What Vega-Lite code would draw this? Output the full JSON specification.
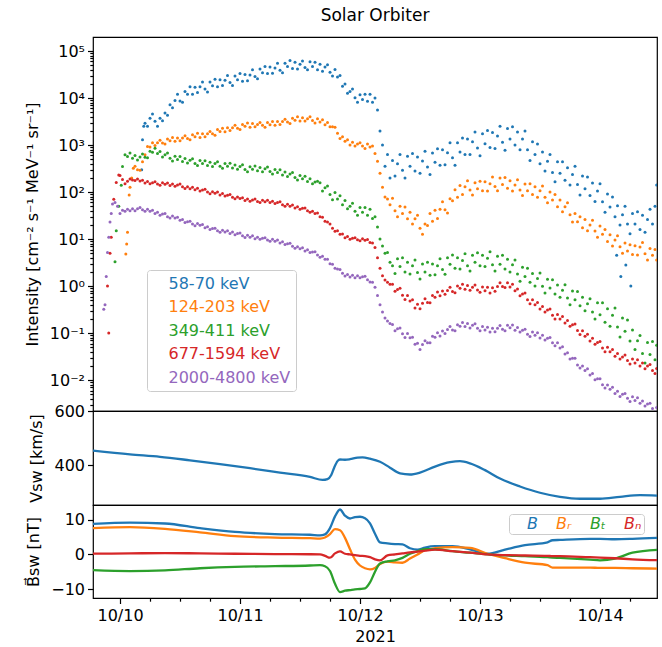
{
"$schema": "https://vega.github.io/schema/vega-lite/v6.json",
"background": "white",
"padding": {"left": 23, "top": 6, "right": 4, "bottom": 2},
"spacing": 0,
"bounds": "flush",
"config": {
 "font": "DejaVu Sans",
 "view": {"stroke": "black", "strokeWidth": 1.2},
 "axis": {"labelFontSize": 16, "titleFontSize": 16, "titleFontWeight": "normal", "labelColor": "black", "titleColor": "black", "tickColor": "black", "tickWidth": 1.2, "tickSize": 5.5, "domain": false, "grid": false, "labelPadding": 3, "titlePadding": 9, "labelOverlap": false},
 "legend": {"labelFontSize": 16, "labelFont": "DejaVu Sans"}
},
"datasets": {
 "i58": [
{"t":"2021-10-10T04:20","v":300},{"t":"2021-10-10T04:30","v":1300},{"t":"2021-10-10T04:45","v":2500},
{"t":"2021-10-10T05:00","v":2900},{"t":"2021-10-10T05:30","v":2500},{"t":"2021-10-10T06:00","v":3700},{"t":"2021-10-10T06:30","v":4600},{"t":"2021-10-10T07:00","v":3200},{"t":"2021-10-10T07:30","v":2500},{"t":"2021-10-10T08:00","v":3700},{"t":"2021-10-10T08:30","v":3300},{"t":"2021-10-10T09:00","v":4800},{"t":"2021-10-10T09:30","v":4300},{"t":"2021-10-10T10:00","v":7200},{"t":"2021-10-10T10:30","v":6200},{"t":"2021-10-10T11:00","v":8900},{"t":"2021-10-10T11:30","v":12000},{"t":"2021-10-10T12:00","v":8700},{"t":"2021-10-10T12:30","v":8100},{"t":"2021-10-10T13:00","v":13800},{"t":"2021-10-10T13:30","v":12000},{"t":"2021-10-10T14:00","v":17400},{"t":"2021-10-10T14:30","v":12000},{"t":"2021-10-10T15:00","v":17000},{"t":"2021-10-10T15:30","v":13200},{"t":"2021-10-10T16:00","v":17400},{"t":"2021-10-10T16:30","v":21900},{"t":"2021-10-10T17:00","v":15500},{"t":"2021-10-10T17:30","v":13500},{"t":"2021-10-10T18:00","v":21900},{"t":"2021-10-10T18:30","v":18200},{"t":"2021-10-10T19:00","v":25100},{"t":"2021-10-10T19:30","v":17400},{"t":"2021-10-10T20:00","v":24500},{"t":"2021-10-10T20:30","v":18600},{"t":"2021-10-10T21:00","v":24000},{"t":"2021-10-10T21:30","v":30200},{"t":"2021-10-10T22:00","v":21400},{"t":"2021-10-10T22:30","v":18600},{"t":"2021-10-10T23:00","v":29500},{"t":"2021-10-10T23:30","v":24500},
{"t":"2021-10-11T00:00","v":33100},{"t":"2021-10-11T00:30","v":22900},{"t":"2021-10-11T01:00","v":31600},{"t":"2021-10-11T01:30","v":23400},{"t":"2021-10-11T02:00","v":30900},{"t":"2021-10-11T02:30","v":39800},{"t":"2021-10-11T03:00","v":28800},{"t":"2021-10-11T03:30","v":25700},{"t":"2021-10-11T04:00","v":41700},{"t":"2021-10-11T04:30","v":34700},{"t":"2021-10-11T05:00","v":46800},{"t":"2021-10-11T05:30","v":33100},{"t":"2021-10-11T06:00","v":45700},{"t":"2021-10-11T06:30","v":33900},{"t":"2021-10-11T07:00","v":43700},{"t":"2021-10-11T07:30","v":55000},{"t":"2021-10-11T08:00","v":38900},{"t":"2021-10-11T08:30","v":34700},{"t":"2021-10-11T09:00","v":55000},{"t":"2021-10-11T09:30","v":46800},{"t":"2021-10-11T10:00","v":63100},{"t":"2021-10-11T10:30","v":42700},{"t":"2021-10-11T11:00","v":57500},{"t":"2021-10-11T11:30","v":41700},{"t":"2021-10-11T12:00","v":52500},{"t":"2021-10-11T12:30","v":61700},{"t":"2021-10-11T13:00","v":44700},{"t":"2021-10-11T13:30","v":39800},{"t":"2021-10-11T14:00","v":58900},{"t":"2021-10-11T14:30","v":46800},{"t":"2021-10-11T15:00","v":57500},{"t":"2021-10-11T15:30","v":39800},{"t":"2021-10-11T16:00","v":52500},{"t":"2021-10-11T16:30","v":37200},{"t":"2021-10-11T17:00","v":45700},{"t":"2021-10-11T17:30","v":51300},{"t":"2021-10-11T18:00","v":35500},{"t":"2021-10-11T18:30","v":29500},{"t":"2021-10-11T19:00","v":40700},{"t":"2021-10-11T19:30","v":28200},{"t":"2021-10-11T20:00","v":30200},{"t":"2021-10-11T20:30","v":17800},{"t":"2021-10-11T21:00","v":20000},{"t":"2021-10-11T21:30","v":12600},{"t":"2021-10-11T22:00","v":13800},{"t":"2021-10-11T22:30","v":15500},{"t":"2021-10-11T23:00","v":10200},{"t":"2021-10-11T23:30","v":8100},
{"t":"2021-10-12T00:00","v":11700},{"t":"2021-10-12T00:30","v":9300},{"t":"2021-10-12T01:00","v":12000},{"t":"2021-10-12T01:30","v":8500},{"t":"2021-10-12T02:00","v":12000},{"t":"2021-10-12T02:30","v":8100},{"t":"2021-10-12T03:00","v":10000},{"t":"2021-10-12T03:30","v":5600},{"t":"2021-10-12T04:00","v":2000},{"t":"2021-10-12T04:30","v":1000},{"t":"2021-10-12T05:00","v":355},{"t":"2021-10-12T05:30","v":630},{"t":"2021-10-12T06:00","v":200},{"t":"2021-10-12T06:30","v":470},{"t":"2021-10-12T07:00","v":220},{"t":"2021-10-12T07:30","v":400},{"t":"2021-10-12T08:00","v":630},{"t":"2021-10-12T08:30","v":290},{"t":"2021-10-12T09:00","v":200},{"t":"2021-10-12T09:30","v":575},{"t":"2021-10-12T10:00","v":355},{"t":"2021-10-12T10:30","v":660},{"t":"2021-10-12T11:00","v":280},{"t":"2021-10-12T11:30","v":560},{"t":"2021-10-12T12:00","v":250},{"t":"2021-10-12T12:30","v":460},{"t":"2021-10-12T13:00","v":740},{"t":"2021-10-12T13:30","v":340},{"t":"2021-10-12T14:00","v":235},{"t":"2021-10-12T14:30","v":680},{"t":"2021-10-12T15:00","v":430},{"t":"2021-10-12T15:30","v":830},{"t":"2021-10-12T16:00","v":370},{"t":"2021-10-12T16:30","v":790},{"t":"2021-10-12T17:00","v":380},{"t":"2021-10-12T17:30","v":690},{"t":"2021-10-12T18:00","v":1120},{"t":"2021-10-12T18:30","v":540},{"t":"2021-10-12T19:00","v":370},{"t":"2021-10-12T19:30","v":1120},{"t":"2021-10-12T20:00","v":710},{"t":"2021-10-12T20:30","v":1410},{"t":"2021-10-12T21:00","v":630},{"t":"2021-10-12T21:30","v":1350},{"t":"2021-10-12T22:00","v":630},{"t":"2021-10-12T22:30","v":1170},{"t":"2021-10-12T23:00","v":1900},{"t":"2021-10-12T23:30","v":870},
{"t":"2021-10-13T00:00","v":590},{"t":"2021-10-13T00:30","v":1740},{"t":"2021-10-13T01:00","v":1070},{"t":"2021-10-13T01:30","v":2040},{"t":"2021-10-13T02:00","v":890},{"t":"2021-10-13T02:30","v":1860},{"t":"2021-10-13T03:00","v":850},{"t":"2021-10-13T03:30","v":1550},{"t":"2021-10-13T04:00","v":2500},{"t":"2021-10-13T04:30","v":1150},{"t":"2021-10-13T05:00","v":780},{"t":"2021-10-13T05:30","v":2240},{"t":"2021-10-13T06:00","v":1350},{"t":"2021-10-13T06:30","v":2450},{"t":"2021-10-13T07:00","v":1000},{"t":"2021-10-13T07:30","v":1900},{"t":"2021-10-13T08:00","v":790},{"t":"2021-10-13T08:30","v":1350},{"t":"2021-10-13T09:00","v":2000},{"t":"2021-10-13T09:30","v":790},{"t":"2021-10-13T10:00","v":470},{"t":"2021-10-13T10:30","v":1170},{"t":"2021-10-13T11:00","v":630},{"t":"2021-10-13T11:30","v":1050},{"t":"2021-10-13T12:00","v":400},{"t":"2021-10-13T12:30","v":710},{"t":"2021-10-13T13:00","v":280},{"t":"2021-10-13T13:30","v":450},{"t":"2021-10-13T14:00","v":630},{"t":"2021-10-13T14:30","v":260},{"t":"2021-10-13T15:00","v":166},{"t":"2021-10-13T15:30","v":440},{"t":"2021-10-13T16:00","v":250},{"t":"2021-10-13T16:30","v":440},{"t":"2021-10-13T17:00","v":178},{"t":"2021-10-13T17:30","v":330},{"t":"2021-10-13T18:00","v":141},{"t":"2021-10-13T18:30","v":235},{"t":"2021-10-13T19:00","v":355},{"t":"2021-10-13T19:30","v":145},{"t":"2021-10-13T20:00","v":87},{"t":"2021-10-13T20:30","v":220},{"t":"2021-10-13T21:00","v":117},{"t":"2021-10-13T21:30","v":210},{"t":"2021-10-13T22:00","v":85},{"t":"2021-10-13T22:30","v":155},{"t":"2021-10-13T23:00","v":63},{"t":"2021-10-13T23:30","v":105},
{"t":"2021-10-14T00:00","v":150},{"t":"2021-10-14T00:30","v":62},{"t":"2021-10-14T01:00","v":37},{"t":"2021-10-14T01:30","v":91},{"t":"2021-10-14T02:00","v":48},{"t":"2021-10-14T02:30","v":79},{"t":"2021-10-14T03:00","v":30},{"t":"2021-10-14T03:20","v":4.5},{"t":"2021-10-14T03:30","v":51},{"t":"2021-10-14T04:00","v":20},{"t":"2021-10-14T04:10","v":1.6},{"t":"2021-10-14T04:30","v":33},{"t":"2021-10-14T05:00","v":50},{"t":"2021-10-14T05:10","v":2.8},{"t":"2021-10-14T05:30","v":21},{"t":"2021-10-14T06:00","v":13},{"t":"2021-10-14T06:10","v":1.0},{"t":"2021-10-14T06:30","v":35},{"t":"2021-10-14T07:00","v":21},{"t":"2021-10-14T07:30","v":38},{"t":"2021-10-14T08:00","v":16},{"t":"2021-10-14T08:30","v":32},{"t":"2021-10-14T09:00","v":14},{"t":"2021-10-14T09:30","v":26},{"t":"2021-10-14T10:00","v":43},{"t":"2021-10-14T10:30","v":21},{"t":"2021-10-14T11:00","v":50},{"t":"2021-10-14T11:20","v":141}
 ],
 "i124": [
{"t":"2021-10-10T01:10","v":4.8},{"t":"2021-10-10T01:20","v":7.9},{"t":"2021-10-10T01:30","v":14},{"t":"2021-10-10T01:50","v":87},{"t":"2021-10-10T02:00","v":126},{"t":"2021-10-10T02:20","v":200},{"t":"2021-10-10T02:40","v":320},
{"t":"2021-10-10T03:00","v":355},{"t":"2021-10-10T03:30","v":300},{"t":"2021-10-10T04:00","v":290},{"t":"2021-10-10T04:30","v":440},{"t":"2021-10-10T05:00","v":620},{"t":"2021-10-10T05:30","v":930},{"t":"2021-10-10T06:00","v":910},{"t":"2021-10-10T06:30","v":1120},{"t":"2021-10-10T07:00","v":980},{"t":"2021-10-10T07:30","v":1120},{"t":"2021-10-10T08:00","v":1260},{"t":"2021-10-10T08:30","v":1100},{"t":"2021-10-10T09:00","v":1050},{"t":"2021-10-10T09:30","v":1350},{"t":"2021-10-10T10:00","v":1230},{"t":"2021-10-10T10:30","v":1450},{"t":"2021-10-10T11:00","v":1200},{"t":"2021-10-10T11:30","v":1410},{"t":"2021-10-10T12:00","v":1230},{"t":"2021-10-10T12:30","v":1410},{"t":"2021-10-10T13:00","v":1580},{"t":"2021-10-10T13:30","v":1380},{"t":"2021-10-10T14:00","v":1290},{"t":"2021-10-10T14:30","v":1660},{"t":"2021-10-10T15:00","v":1510},{"t":"2021-10-10T15:30","v":1780},{"t":"2021-10-10T16:00","v":1450},{"t":"2021-10-10T16:30","v":1740},{"t":"2021-10-10T17:00","v":1510},{"t":"2021-10-10T17:30","v":1740},{"t":"2021-10-10T18:00","v":1950},{"t":"2021-10-10T18:30","v":1740},{"t":"2021-10-10T19:00","v":1620},{"t":"2021-10-10T19:30","v":2140},{"t":"2021-10-10T20:00","v":1950},{"t":"2021-10-10T20:30","v":2290},{"t":"2021-10-10T21:00","v":1910},{"t":"2021-10-10T21:30","v":2340},{"t":"2021-10-10T22:00","v":2040},{"t":"2021-10-10T22:30","v":2340},{"t":"2021-10-10T23:00","v":2630},{"t":"2021-10-10T23:30","v":2290},
{"t":"2021-10-11T00:00","v":2140},{"t":"2021-10-11T00:30","v":2750},{"t":"2021-10-11T01:00","v":2510},{"t":"2021-10-11T01:30","v":2950},{"t":"2021-10-11T02:00","v":2400},{"t":"2021-10-11T02:30","v":2880},{"t":"2021-10-11T03:00","v":2450},{"t":"2021-10-11T03:30","v":2750},{"t":"2021-10-11T04:00","v":3020},{"t":"2021-10-11T04:30","v":2630},{"t":"2021-10-11T05:00","v":2400},{"t":"2021-10-11T05:30","v":3020},{"t":"2021-10-11T06:00","v":2690},{"t":"2021-10-11T06:30","v":3160},{"t":"2021-10-11T07:00","v":2630},{"t":"2021-10-11T07:30","v":3160},{"t":"2021-10-11T08:00","v":2750},{"t":"2021-10-11T08:30","v":3160},{"t":"2021-10-11T09:00","v":3550},{"t":"2021-10-11T09:30","v":3090},{"t":"2021-10-11T10:00","v":2880},{"t":"2021-10-11T10:30","v":3720},{"t":"2021-10-11T11:00","v":3390},{"t":"2021-10-11T11:30","v":3980},{"t":"2021-10-11T12:00","v":3240},{"t":"2021-10-11T12:30","v":3800},{"t":"2021-10-11T13:00","v":3240},{"t":"2021-10-11T13:30","v":3630},{"t":"2021-10-11T14:00","v":3980},{"t":"2021-10-11T14:30","v":3310},{"t":"2021-10-11T15:00","v":2950},{"t":"2021-10-11T15:30","v":3630},{"t":"2021-10-11T16:00","v":3090},{"t":"2021-10-11T16:30","v":3470},{"t":"2021-10-11T17:00","v":2690},{"t":"2021-10-11T17:30","v":3020},{"t":"2021-10-11T18:00","v":2450},{"t":"2021-10-11T18:30","v":2450},{"t":"2021-10-11T19:00","v":2400},{"t":"2021-10-11T19:30","v":1780},{"t":"2021-10-11T20:00","v":1380},{"t":"2021-10-11T20:30","v":1510},{"t":"2021-10-11T21:00","v":1200},{"t":"2021-10-11T21:30","v":1290},{"t":"2021-10-11T22:00","v":1000},{"t":"2021-10-11T22:30","v":1150},{"t":"2021-10-11T23:00","v":950},{"t":"2021-10-11T23:30","v":1050},
{"t":"2021-10-12T00:00","v":1120},{"t":"2021-10-12T00:30","v":950},{"t":"2021-10-12T01:00","v":850},{"t":"2021-10-12T01:30","v":1050},{"t":"2021-10-12T02:00","v":910},{"t":"2021-10-12T02:30","v":950},{"t":"2021-10-12T03:00","v":660},{"t":"2021-10-12T03:30","v":450},{"t":"2021-10-12T04:00","v":250},{"t":"2021-10-12T04:30","v":126},{"t":"2021-10-12T05:00","v":79},{"t":"2021-10-12T05:30","v":71},{"t":"2021-10-12T06:00","v":54},{"t":"2021-10-12T06:30","v":74},{"t":"2021-10-12T07:00","v":40},{"t":"2021-10-12T07:30","v":30},{"t":"2021-10-12T08:00","v":50},{"t":"2021-10-12T08:30","v":35},{"t":"2021-10-12T09:00","v":48},{"t":"2021-10-12T09:30","v":27},{"t":"2021-10-12T10:00","v":37},{"t":"2021-10-12T10:30","v":21},{"t":"2021-10-12T11:00","v":27},{"t":"2021-10-12T11:30","v":32},{"t":"2021-10-12T12:00","v":17},{"t":"2021-10-12T12:30","v":12.6},{"t":"2021-10-12T13:00","v":21},{"t":"2021-10-12T13:30","v":19.5},{"t":"2021-10-12T14:00","v":35},{"t":"2021-10-12T14:30","v":24},{"t":"2021-10-12T15:00","v":41},{"t":"2021-10-12T15:30","v":27.5},{"t":"2021-10-12T16:00","v":43},{"t":"2021-10-12T16:30","v":62},{"t":"2021-10-12T17:00","v":42},{"t":"2021-10-12T17:30","v":36},{"t":"2021-10-12T18:00","v":72},{"t":"2021-10-12T18:30","v":65},{"t":"2021-10-12T19:00","v":112},{"t":"2021-10-12T19:30","v":78},{"t":"2021-10-12T20:00","v":138},{"t":"2021-10-12T20:30","v":89},{"t":"2021-10-12T21:00","v":129},{"t":"2021-10-12T21:30","v":174},{"t":"2021-10-12T22:00","v":110},{"t":"2021-10-12T22:30","v":87},{"t":"2021-10-12T23:00","v":158},{"t":"2021-10-12T23:30","v":117},
{"t":"2021-10-13T00:00","v":170},{"t":"2021-10-13T00:30","v":107},{"t":"2021-10-13T01:00","v":166},{"t":"2021-10-13T01:30","v":105},{"t":"2021-10-13T02:00","v":151},{"t":"2021-10-13T02:30","v":209},{"t":"2021-10-13T03:00","v":132},{"t":"2021-10-13T03:30","v":107},{"t":"2021-10-13T04:00","v":200},{"t":"2021-10-13T04:30","v":145},{"t":"2021-10-13T05:00","v":204},{"t":"2021-10-13T05:30","v":120},{"t":"2021-10-13T06:00","v":174},{"t":"2021-10-13T06:30","v":105},{"t":"2021-10-13T07:00","v":141},{"t":"2021-10-13T07:30","v":182},{"t":"2021-10-13T08:00","v":110},{"t":"2021-10-13T08:30","v":85},{"t":"2021-10-13T09:00","v":148},{"t":"2021-10-13T09:30","v":107},{"t":"2021-10-13T10:00","v":151},{"t":"2021-10-13T10:30","v":89},{"t":"2021-10-13T11:00","v":129},{"t":"2021-10-13T11:30","v":78},{"t":"2021-10-13T12:00","v":107},{"t":"2021-10-13T12:30","v":135},{"t":"2021-10-13T13:00","v":78},{"t":"2021-10-13T13:30","v":59},{"t":"2021-10-13T14:00","v":100},{"t":"2021-10-13T14:30","v":68},{"t":"2021-10-13T15:00","v":89},{"t":"2021-10-13T15:30","v":49},{"t":"2021-10-13T16:00","v":68},{"t":"2021-10-13T16:30","v":38},{"t":"2021-10-13T17:00","v":49},{"t":"2021-10-13T17:30","v":59},{"t":"2021-10-13T18:00","v":33},{"t":"2021-10-13T18:30","v":23},{"t":"2021-10-13T19:00","v":35},{"t":"2021-10-13T19:30","v":23.4},{"t":"2021-10-13T20:00","v":30},{"t":"2021-10-13T20:30","v":17.4},{"t":"2021-10-13T21:00","v":26},{"t":"2021-10-13T21:30","v":15},{"t":"2021-10-13T22:00","v":20},{"t":"2021-10-13T22:30","v":25},{"t":"2021-10-13T23:00","v":14.8},{"t":"2021-10-13T23:30","v":11},
{"t":"2021-10-14T00:00","v":19},{"t":"2021-10-14T00:30","v":12.6},{"t":"2021-10-14T01:00","v":16},{"t":"2021-10-14T01:30","v":8.9},{"t":"2021-10-14T02:00","v":12.3},{"t":"2021-10-14T02:30","v":7.1},{"t":"2021-10-14T03:00","v":9.5},{"t":"2021-10-14T03:30","v":11.7},{"t":"2021-10-14T04:00","v":6.9},{"t":"2021-10-14T04:30","v":5.0},{"t":"2021-10-14T05:00","v":8.3},{"t":"2021-10-14T05:30","v":5.6},{"t":"2021-10-14T06:00","v":7.6},{"t":"2021-10-14T06:30","v":4.7},{"t":"2021-10-14T07:00","v":7.2},{"t":"2021-10-14T07:30","v":4.6},{"t":"2021-10-14T08:00","v":6.8},{"t":"2021-10-14T08:30","v":8.5},{"t":"2021-10-14T09:00","v":4.9},{"t":"2021-10-14T09:30","v":3.6},{"t":"2021-10-14T10:00","v":6.3},{"t":"2021-10-14T10:30","v":4.5},{"t":"2021-10-14T11:00","v":6.0},{"t":"2021-10-14T11:20","v":3.6}
 ],
 "i349": [
{"t":"2021-10-09T23:00","v":3.3},{"t":"2021-10-09T23:15","v":15},{"t":"2021-10-09T23:45","v":50},{"t":"2021-10-10T00:15","v":140},{"t":"2021-10-10T00:30","v":350},
{"t":"2021-10-10T01:00","v":620},{"t":"2021-10-10T01:30","v":570},{"t":"2021-10-10T02:00","v":680},{"t":"2021-10-10T02:30","v":525},{"t":"2021-10-10T03:00","v":600},{"t":"2021-10-10T03:30","v":480},{"t":"2021-10-10T04:00","v":560},{"t":"2021-10-10T04:30","v":645},{"t":"2021-10-10T05:00","v":550},{"t":"2021-10-10T05:30","v":540},{"t":"2021-10-10T06:00","v":740},{"t":"2021-10-10T06:30","v":700},{"t":"2021-10-10T07:00","v":860},{"t":"2021-10-10T07:30","v":660},{"t":"2021-10-10T08:00","v":730},{"t":"2021-10-10T08:30","v":560},{"t":"2021-10-10T09:00","v":620},{"t":"2021-10-10T09:30","v":680},{"t":"2021-10-10T10:00","v":525},{"t":"2021-10-10T10:30","v":457},{"t":"2021-10-10T11:00","v":575},{"t":"2021-10-10T11:30","v":495},{"t":"2021-10-10T12:00","v":570},{"t":"2021-10-10T12:30","v":447},{"t":"2021-10-10T13:00","v":520},{"t":"2021-10-10T13:30","v":417},{"t":"2021-10-10T14:00","v":473},{"t":"2021-10-10T14:30","v":513},{"t":"2021-10-10T15:00","v":407},{"t":"2021-10-10T15:30","v":367},{"t":"2021-10-10T16:00","v":468},{"t":"2021-10-10T16:30","v":403},{"t":"2021-10-10T17:00","v":462},{"t":"2021-10-10T17:30","v":367},{"t":"2021-10-10T18:00","v":431},{"t":"2021-10-10T18:30","v":351},{"t":"2021-10-10T19:00","v":403},{"t":"2021-10-10T19:30","v":442},{"t":"2021-10-10T20:00","v":355},{"t":"2021-10-10T20:30","v":320},{"t":"2021-10-10T21:00","v":407},{"t":"2021-10-10T21:30","v":355},{"t":"2021-10-10T22:00","v":412},{"t":"2021-10-10T22:30","v":324},{"t":"2021-10-10T23:00","v":376},{"t":"2021-10-10T23:30","v":305},
{"t":"2021-10-11T00:00","v":351},{"t":"2021-10-11T00:30","v":380},{"t":"2021-10-11T01:00","v":302},{"t":"2021-10-11T01:30","v":272},{"t":"2021-10-11T02:00","v":347},{"t":"2021-10-11T02:30","v":305},{"t":"2021-10-11T03:00","v":359},{"t":"2021-10-11T03:30","v":285},{"t":"2021-10-11T04:00","v":335},{"t":"2021-10-11T04:30","v":272},{"t":"2021-10-11T05:00","v":313},{"t":"2021-10-11T05:30","v":343},{"t":"2021-10-11T06:00","v":275},{"t":"2021-10-11T06:30","v":243},{"t":"2021-10-11T07:00","v":302},{"t":"2021-10-11T07:30","v":260},{"t":"2021-10-11T08:00","v":299},{"t":"2021-10-11T08:30","v":232},{"t":"2021-10-11T09:00","v":266},{"t":"2021-10-11T09:30","v":214},{"t":"2021-10-11T10:00","v":243},{"t":"2021-10-11T10:30","v":260},{"t":"2021-10-11T11:00","v":204},{"t":"2021-10-11T11:30","v":180},{"t":"2021-10-11T12:00","v":224},{"t":"2021-10-11T12:30","v":191},{"t":"2021-10-11T13:00","v":216},{"t":"2021-10-11T13:30","v":168},{"t":"2021-10-11T14:00","v":193},{"t":"2021-10-11T14:30","v":150},{"t":"2021-10-11T15:00","v":164},{"t":"2021-10-11T15:30","v":170},{"t":"2021-10-11T16:00","v":158},{"t":"2021-10-11T16:30","v":105},{"t":"2021-10-11T17:00","v":123},{"t":"2021-10-11T17:30","v":135},{"t":"2021-10-11T18:00","v":89},{"t":"2021-10-11T18:30","v":69},{"t":"2021-10-11T19:00","v":98},{"t":"2021-10-11T19:30","v":71},{"t":"2021-10-11T20:00","v":83},{"t":"2021-10-11T20:30","v":54},{"t":"2021-10-11T21:00","v":66},{"t":"2021-10-11T21:30","v":44},{"t":"2021-10-11T22:00","v":50},{"t":"2021-10-11T22:30","v":58},{"t":"2021-10-11T23:00","v":39},{"t":"2021-10-11T23:30","v":32},
{"t":"2021-10-12T00:00","v":47},{"t":"2021-10-12T00:30","v":37},{"t":"2021-10-12T01:00","v":47},{"t":"2021-10-12T01:30","v":32},{"t":"2021-10-12T02:00","v":43},{"t":"2021-10-12T02:30","v":27.5},{"t":"2021-10-12T03:00","v":30},{"t":"2021-10-12T03:30","v":18},{"t":"2021-10-12T04:00","v":10},{"t":"2021-10-12T04:30","v":7.1},{"t":"2021-10-12T05:00","v":5.0},{"t":"2021-10-12T05:30","v":5.2},{"t":"2021-10-12T06:00","v":3.2},{"t":"2021-10-12T06:30","v":2.7},{"t":"2021-10-12T07:00","v":1.86},{"t":"2021-10-12T07:30","v":3.8},{"t":"2021-10-12T08:00","v":2.6},{"t":"2021-10-12T08:30","v":4.0},{"t":"2021-10-12T09:00","v":2.0},{"t":"2021-10-12T09:30","v":3.2},{"t":"2021-10-12T10:00","v":1.8},{"t":"2021-10-12T10:30","v":2.7},{"t":"2021-10-12T11:00","v":3.6},{"t":"2021-10-12T11:30","v":1.95},{"t":"2021-10-12T12:00","v":1.41},{"t":"2021-10-12T12:30","v":2.95},{"t":"2021-10-12T13:00","v":2.0},{"t":"2021-10-12T13:30","v":3.2},{"t":"2021-10-12T14:00","v":1.7},{"t":"2021-10-12T14:30","v":2.95},{"t":"2021-10-12T15:00","v":1.74},{"t":"2021-10-12T15:30","v":2.7},{"t":"2021-10-12T16:00","v":3.8},{"t":"2021-10-12T16:30","v":2.24},{"t":"2021-10-12T17:00","v":1.78},{"t":"2021-10-12T17:30","v":4.0},{"t":"2021-10-12T18:00","v":2.9},{"t":"2021-10-12T18:30","v":4.6},{"t":"2021-10-12T19:00","v":2.4},{"t":"2021-10-12T19:30","v":4.0},{"t":"2021-10-12T20:00","v":2.3},{"t":"2021-10-12T20:30","v":3.5},{"t":"2021-10-12T21:00","v":4.9},{"t":"2021-10-12T21:30","v":2.7},{"t":"2021-10-12T22:00","v":2.1},{"t":"2021-10-12T22:30","v":4.5},{"t":"2021-10-12T23:00","v":3.2},{"t":"2021-10-12T23:30","v":5.1},
{"t":"2021-10-13T00:00","v":2.7},{"t":"2021-10-13T00:30","v":4.5},{"t":"2021-10-13T01:00","v":2.6},{"t":"2021-10-13T01:30","v":3.9},{"t":"2021-10-13T02:00","v":5.4},{"t":"2021-10-13T02:30","v":2.85},{"t":"2021-10-13T03:00","v":2.1},{"t":"2021-10-13T03:30","v":4.3},{"t":"2021-10-13T04:00","v":2.9},{"t":"2021-10-13T04:30","v":4.5},{"t":"2021-10-13T05:00","v":2.3},{"t":"2021-10-13T05:30","v":3.7},{"t":"2021-10-13T06:00","v":2.0},{"t":"2021-10-13T06:30","v":2.85},{"t":"2021-10-13T07:00","v":3.6},{"t":"2021-10-13T07:30","v":1.8},{"t":"2021-10-13T08:00","v":1.26},{"t":"2021-10-13T08:30","v":2.5},{"t":"2021-10-13T09:00","v":1.6},{"t":"2021-10-13T09:30","v":2.4},{"t":"2021-10-13T10:00","v":1.2},{"t":"2021-10-13T10:30","v":1.86},{"t":"2021-10-13T11:00","v":1.0},{"t":"2021-10-13T11:30","v":1.45},{"t":"2021-10-13T12:00","v":1.9},{"t":"2021-10-13T12:30","v":0.99},{"t":"2021-10-13T13:00","v":0.71},{"t":"2021-10-13T13:30","v":1.4},{"t":"2021-10-13T14:00","v":0.91},{"t":"2021-10-13T14:30","v":1.36},{"t":"2021-10-13T15:00","v":0.68},{"t":"2021-10-13T15:30","v":1.06},{"t":"2021-10-13T16:00","v":0.58},{"t":"2021-10-13T16:30","v":0.82},{"t":"2021-10-13T17:00","v":1.07},{"t":"2021-10-13T17:30","v":0.56},{"t":"2021-10-13T18:00","v":0.4},{"t":"2021-10-13T18:30","v":0.79},{"t":"2021-10-13T19:00","v":0.51},{"t":"2021-10-13T19:30","v":0.77},{"t":"2021-10-13T20:00","v":0.38},{"t":"2021-10-13T20:30","v":0.58},{"t":"2021-10-13T21:00","v":0.3},{"t":"2021-10-13T21:30","v":0.42},{"t":"2021-10-13T22:00","v":0.54},{"t":"2021-10-13T22:30","v":0.28},{"t":"2021-10-13T23:00","v":0.2},{"t":"2021-10-13T23:30","v":0.44},
{"t":"2021-10-14T00:00","v":0.245},{"t":"2021-10-14T00:30","v":0.44},{"t":"2021-10-14T01:00","v":0.17},{"t":"2021-10-14T01:30","v":0.33},{"t":"2021-10-14T02:00","v":0.14},{"t":"2021-10-14T02:30","v":0.24},{"t":"2021-10-14T03:00","v":0.34},{"t":"2021-10-14T03:30","v":0.135},{"t":"2021-10-14T04:00","v":0.083},{"t":"2021-10-14T04:30","v":0.21},{"t":"2021-10-14T05:00","v":0.11},{"t":"2021-10-14T05:30","v":0.19},{"t":"2021-10-14T06:00","v":0.068},{"t":"2021-10-14T06:30","v":0.117},{"t":"2021-10-14T07:00","v":0.045},{"t":"2021-10-14T07:30","v":0.069},{"t":"2021-10-14T08:00","v":0.089},{"t":"2021-10-14T08:30","v":0.037},{"t":"2021-10-14T09:00","v":0.023},{"t":"2021-10-14T09:30","v":0.063},{"t":"2021-10-14T10:00","v":0.035},{"t":"2021-10-14T10:30","v":0.066},{"t":"2021-10-14T11:00","v":0.027},{"t":"2021-10-14T11:20","v":0.055}
 ],
 "i677": [
{"t":"2021-10-09T21:30","v":1.0},{"t":"2021-10-09T21:45","v":0.1},{"t":"2021-10-09T22:00","v":5.0},{"t":"2021-10-09T22:15","v":11},{"t":"2021-10-09T22:45","v":70},{"t":"2021-10-09T23:15","v":160},{"t":"2021-10-09T23:45","v":230},
{"t":"2021-10-10T00:00","v":224},{"t":"2021-10-10T00:30","v":186},{"t":"2021-10-10T01:00","v":150},{"t":"2021-10-10T01:30","v":170},{"t":"2021-10-10T02:00","v":190},{"t":"2021-10-10T02:30","v":180},{"t":"2021-10-10T03:00","v":176},{"t":"2021-10-10T03:30","v":190},{"t":"2021-10-10T04:00","v":171},{"t":"2021-10-10T04:30","v":179},{"t":"2021-10-10T05:00","v":155},{"t":"2021-10-10T05:30","v":167},{"t":"2021-10-10T06:00","v":150},{"t":"2021-10-10T06:30","v":158},{"t":"2021-10-10T07:00","v":166},{"t":"2021-10-10T07:30","v":148},{"t":"2021-10-10T08:00","v":140},{"t":"2021-10-10T08:30","v":157},{"t":"2021-10-10T09:00","v":146},{"t":"2021-10-10T09:30","v":156},{"t":"2021-10-10T10:00","v":138},{"t":"2021-10-10T10:30","v":149},{"t":"2021-10-10T11:00","v":133},{"t":"2021-10-10T11:30","v":142},{"t":"2021-10-10T12:00","v":148},{"t":"2021-10-10T12:30","v":129},{"t":"2021-10-10T13:00","v":119},{"t":"2021-10-10T13:30","v":130},{"t":"2021-10-10T14:00","v":118},{"t":"2021-10-10T14:30","v":127},{"t":"2021-10-10T15:00","v":112},{"t":"2021-10-10T15:30","v":120},{"t":"2021-10-10T16:00","v":106},{"t":"2021-10-10T16:30","v":111},{"t":"2021-10-10T17:00","v":115},{"t":"2021-10-10T17:30","v":100},{"t":"2021-10-10T18:00","v":92},{"t":"2021-10-10T18:30","v":102},{"t":"2021-10-10T19:00","v":94},{"t":"2021-10-10T19:30","v":100},{"t":"2021-10-10T20:00","v":87},{"t":"2021-10-10T20:30","v":93},{"t":"2021-10-10T21:00","v":82},{"t":"2021-10-10T21:30","v":86},{"t":"2021-10-10T22:00","v":89},{"t":"2021-10-10T22:30","v":78},{"t":"2021-10-10T23:00","v":72},{"t":"2021-10-10T23:30","v":79},
{"t":"2021-10-11T00:00","v":73},{"t":"2021-10-11T00:30","v":76},{"t":"2021-10-11T01:00","v":66},{"t":"2021-10-11T01:30","v":71},{"t":"2021-10-11T02:00","v":64},{"t":"2021-10-11T02:30","v":68},{"t":"2021-10-11T03:00","v":71},{"t":"2021-10-11T03:30","v":63},{"t":"2021-10-11T04:00","v":60},{"t":"2021-10-11T04:30","v":67},{"t":"2021-10-11T05:00","v":62},{"t":"2021-10-11T05:30","v":67},{"t":"2021-10-11T06:00","v":60},{"t":"2021-10-11T06:30","v":64},{"t":"2021-10-11T07:00","v":57},{"t":"2021-10-11T07:30","v":60},{"t":"2021-10-11T08:00","v":62},{"t":"2021-10-11T08:30","v":54},{"t":"2021-10-11T09:00","v":50},{"t":"2021-10-11T09:30","v":55},{"t":"2021-10-11T10:00","v":50},{"t":"2021-10-11T10:30","v":53},{"t":"2021-10-11T11:00","v":46},{"t":"2021-10-11T11:30","v":49},{"t":"2021-10-11T12:00","v":43},{"t":"2021-10-11T12:30","v":45},{"t":"2021-10-11T13:00","v":46},{"t":"2021-10-11T13:30","v":40},{"t":"2021-10-11T14:00","v":37},{"t":"2021-10-11T14:30","v":39},{"t":"2021-10-11T15:00","v":35},{"t":"2021-10-11T15:30","v":36},{"t":"2021-10-11T16:00","v":30},{"t":"2021-10-11T16:30","v":29},{"t":"2021-10-11T17:00","v":24},{"t":"2021-10-11T17:30","v":23},{"t":"2021-10-11T18:00","v":21},{"t":"2021-10-11T18:30","v":17},{"t":"2021-10-11T19:00","v":14.6},{"t":"2021-10-11T19:30","v":15},{"t":"2021-10-11T20:00","v":12.7},{"t":"2021-10-11T20:30","v":12.8},{"t":"2021-10-11T21:00","v":10.7},{"t":"2021-10-11T21:30","v":11.3},{"t":"2021-10-11T22:00","v":9.9},{"t":"2021-10-11T22:30","v":10.4},{"t":"2021-10-11T23:00","v":10.7},{"t":"2021-10-11T23:30","v":9.7},
{"t":"2021-10-12T00:00","v":9.2},{"t":"2021-10-12T00:30","v":10.2},{"t":"2021-10-12T01:00","v":9.4},{"t":"2021-10-12T01:30","v":9.8},{"t":"2021-10-12T02:00","v":8.5},{"t":"2021-10-12T02:30","v":8.3},{"t":"2021-10-12T03:00","v":6.6},{"t":"2021-10-12T03:30","v":4.0},{"t":"2021-10-12T04:00","v":2.4},{"t":"2021-10-12T04:30","v":1.66},{"t":"2021-10-12T05:00","v":1.35},{"t":"2021-10-12T05:30","v":1.2},{"t":"2021-10-12T06:00","v":1.1},{"t":"2021-10-12T06:30","v":1.1},{"t":"2021-10-12T07:00","v":0.78},{"t":"2021-10-12T07:30","v":0.85},{"t":"2021-10-12T08:00","v":0.9},{"t":"2021-10-12T08:30","v":0.64},{"t":"2021-10-12T09:00","v":0.52},{"t":"2021-10-12T09:30","v":0.63},{"t":"2021-10-12T10:00","v":0.48},{"t":"2021-10-12T10:30","v":0.51},{"t":"2021-10-12T11:00","v":0.34},{"t":"2021-10-12T11:30","v":0.41},{"t":"2021-10-12T12:00","v":0.33},{"t":"2021-10-12T12:30","v":0.43},{"t":"2021-10-12T13:00","v":0.54},{"t":"2021-10-12T13:30","v":0.45},{"t":"2021-10-12T14:00","v":0.44},{"t":"2021-10-12T14:30","v":0.63},{"t":"2021-10-12T15:00","v":0.58},{"t":"2021-10-12T15:30","v":0.75},{"t":"2021-10-12T16:00","v":0.62},{"t":"2021-10-12T16:30","v":0.79},{"t":"2021-10-12T17:00","v":0.67},{"t":"2021-10-12T17:30","v":0.81},{"t":"2021-10-12T18:00","v":0.94},{"t":"2021-10-12T18:30","v":0.77},{"t":"2021-10-12T19:00","v":0.72},{"t":"2021-10-12T19:30","v":1.0},{"t":"2021-10-12T20:00","v":0.9},{"t":"2021-10-12T20:30","v":1.09},{"t":"2021-10-12T21:00","v":0.86},{"t":"2021-10-12T21:30","v":1.03},{"t":"2021-10-12T22:00","v":0.82},{"t":"2021-10-12T22:30","v":0.95},{"t":"2021-10-12T23:00","v":1.05},{"t":"2021-10-12T23:30","v":0.83},
{"t":"2021-10-13T00:00","v":0.74},{"t":"2021-10-13T00:30","v":0.96},{"t":"2021-10-13T01:00","v":0.8},{"t":"2021-10-13T01:30","v":0.94},{"t":"2021-10-13T02:00","v":0.71},{"t":"2021-10-13T02:30","v":0.92},{"t":"2021-10-13T03:00","v":0.78},{"t":"2021-10-13T03:30","v":0.98},{"t":"2021-10-13T04:00","v":1.18},{"t":"2021-10-13T04:30","v":0.98},{"t":"2021-10-13T05:00","v":0.93},{"t":"2021-10-13T05:30","v":1.18},{"t":"2021-10-13T06:00","v":0.96},{"t":"2021-10-13T06:30","v":1.09},{"t":"2021-10-13T07:00","v":0.8},{"t":"2021-10-13T07:30","v":0.87},{"t":"2021-10-13T08:00","v":0.62},{"t":"2021-10-13T08:30","v":0.68},{"t":"2021-10-13T09:00","v":0.71},{"t":"2021-10-13T09:30","v":0.51},{"t":"2021-10-13T10:00","v":0.42},{"t":"2021-10-13T10:30","v":0.51},{"t":"2021-10-13T11:00","v":0.4},{"t":"2021-10-13T11:30","v":0.45},{"t":"2021-10-13T12:00","v":0.325},{"t":"2021-10-13T12:30","v":0.37},{"t":"2021-10-13T13:00","v":0.28},{"t":"2021-10-13T13:30","v":0.31},{"t":"2021-10-13T14:00","v":0.325},{"t":"2021-10-13T14:30","v":0.24},{"t":"2021-10-13T15:00","v":0.2},{"t":"2021-10-13T15:30","v":0.25},{"t":"2021-10-13T16:00","v":0.2},{"t":"2021-10-13T16:30","v":0.226},{"t":"2021-10-13T17:00","v":0.163},{"t":"2021-10-13T17:30","v":0.186},{"t":"2021-10-13T18:00","v":0.139},{"t":"2021-10-13T18:30","v":0.15},{"t":"2021-10-13T19:00","v":0.156},{"t":"2021-10-13T19:30","v":0.113},{"t":"2021-10-13T20:00","v":0.093},{"t":"2021-10-13T20:30","v":0.112},{"t":"2021-10-13T21:00","v":0.086},{"t":"2021-10-13T21:30","v":0.095},{"t":"2021-10-13T22:00","v":0.068},{"t":"2021-10-13T22:30","v":0.078},{"t":"2021-10-13T23:00","v":0.058},{"t":"2021-10-13T23:30","v":0.063},
{"t":"2021-10-14T00:00","v":0.066},{"t":"2021-10-14T00:30","v":0.048},{"t":"2021-10-14T01:00","v":0.04},{"t":"2021-10-14T01:30","v":0.05},{"t":"2021-10-14T02:00","v":0.04},{"t":"2021-10-14T02:30","v":0.045},{"t":"2021-10-14T03:00","v":0.032},{"t":"2021-10-14T03:30","v":0.037},{"t":"2021-10-14T04:00","v":0.028},{"t":"2021-10-14T04:30","v":0.031},{"t":"2021-10-14T05:00","v":0.034},{"t":"2021-10-14T05:30","v":0.026},{"t":"2021-10-14T06:00","v":0.022},{"t":"2021-10-14T06:30","v":0.028},{"t":"2021-10-14T07:00","v":0.023},{"t":"2021-10-14T07:30","v":0.027},{"t":"2021-10-14T08:00","v":0.02},{"t":"2021-10-14T08:30","v":0.023},{"t":"2021-10-14T09:00","v":0.0175},{"t":"2021-10-14T09:30","v":0.02},{"t":"2021-10-14T10:00","v":0.0215},{"t":"2021-10-14T10:30","v":0.016},{"t":"2021-10-14T11:00","v":0.0138},{"t":"2021-10-14T11:20","v":0.0177}
 ],
 "i2000": [
{"t":"2021-10-09T20:45","v":0.32},{"t":"2021-10-09T21:00","v":0.40},{"t":"2021-10-09T21:15","v":1.6},{"t":"2021-10-09T21:30","v":5.2},{"t":"2021-10-09T21:45","v":11},{"t":"2021-10-09T22:00","v":23},{"t":"2021-10-09T22:15","v":35},{"t":"2021-10-09T22:30","v":56},{"t":"2021-10-09T23:00","v":60},{"t":"2021-10-09T23:30","v":50},
{"t":"2021-10-10T00:00","v":35},{"t":"2021-10-10T00:30","v":41},{"t":"2021-10-10T01:00","v":39},{"t":"2021-10-10T01:30","v":43},{"t":"2021-10-10T02:00","v":40},{"t":"2021-10-10T02:30","v":44},{"t":"2021-10-10T03:00","v":40},{"t":"2021-10-10T03:30","v":44},{"t":"2021-10-10T04:00","v":47},{"t":"2021-10-10T04:30","v":42},{"t":"2021-10-10T05:00","v":39},{"t":"2021-10-10T05:30","v":43},{"t":"2021-10-10T06:00","v":39},{"t":"2021-10-10T06:30","v":41},{"t":"2021-10-10T07:00","v":35},{"t":"2021-10-10T07:30","v":37},{"t":"2021-10-10T08:00","v":32},{"t":"2021-10-10T08:30","v":34},{"t":"2021-10-10T09:00","v":35},{"t":"2021-10-10T09:30","v":30},{"t":"2021-10-10T10:00","v":28},{"t":"2021-10-10T10:30","v":31},{"t":"2021-10-10T11:00","v":28},{"t":"2021-10-10T11:30","v":29},{"t":"2021-10-10T12:00","v":25},{"t":"2021-10-10T12:30","v":26},{"t":"2021-10-10T13:00","v":22.6},{"t":"2021-10-10T13:30","v":23.5},{"t":"2021-10-10T14:00","v":24},{"t":"2021-10-10T14:30","v":21},{"t":"2021-10-10T15:00","v":19.3},{"t":"2021-10-10T15:30","v":21.4},{"t":"2021-10-10T16:00","v":19.6},{"t":"2021-10-10T16:30","v":20.3},{"t":"2021-10-10T17:00","v":17.4},{"t":"2021-10-10T17:30","v":18.3},{"t":"2021-10-10T18:00","v":16},{"t":"2021-10-10T18:30","v":16.7},{"t":"2021-10-10T19:00","v":17},{"t":"2021-10-10T19:30","v":15},{"t":"2021-10-10T20:00","v":14},{"t":"2021-10-10T20:30","v":15.5},{"t":"2021-10-10T21:00","v":14.2},{"t":"2021-10-10T21:30","v":15.1},{"t":"2021-10-10T22:00","v":13.2},{"t":"2021-10-10T22:30","v":14.1},{"t":"2021-10-10T23:00","v":12.4},{"t":"2021-10-10T23:30","v":13.1},
{"t":"2021-10-11T00:00","v":13.5},{"t":"2021-10-11T00:30","v":11.8},{"t":"2021-10-11T01:00","v":10.8},{"t":"2021-10-11T01:30","v":12},{"t":"2021-10-11T02:00","v":11},{"t":"2021-10-11T02:30","v":11.7},{"t":"2021-10-11T03:00","v":10.2},{"t":"2021-10-11T03:30","v":11},{"t":"2021-10-11T04:00","v":9.9},{"t":"2021-10-11T04:30","v":10.4},{"t":"2021-10-11T05:00","v":10.7},{"t":"2021-10-11T05:30","v":9.6},{"t":"2021-10-11T06:00","v":9.0},{"t":"2021-10-11T06:30","v":9.9},{"t":"2021-10-11T07:00","v":9.0},{"t":"2021-10-11T07:30","v":9.5},{"t":"2021-10-11T08:00","v":8.3},{"t":"2021-10-11T08:30","v":8.8},{"t":"2021-10-11T09:00","v":7.7},{"t":"2021-10-11T09:30","v":8.0},{"t":"2021-10-11T10:00","v":8.1},{"t":"2021-10-11T10:30","v":7.0},{"t":"2021-10-11T11:00","v":6.4},{"t":"2021-10-11T11:30","v":6.9},{"t":"2021-10-11T12:00","v":6.2},{"t":"2021-10-11T12:30","v":6.5},{"t":"2021-10-11T13:00","v":5.6},{"t":"2021-10-11T13:30","v":5.9},{"t":"2021-10-11T14:00","v":5.2},{"t":"2021-10-11T14:30","v":5.3},{"t":"2021-10-11T15:00","v":5.4},{"t":"2021-10-11T15:30","v":4.6},{"t":"2021-10-11T16:00","v":4.1},{"t":"2021-10-11T16:30","v":4.3},{"t":"2021-10-11T17:00","v":3.7},{"t":"2021-10-11T17:30","v":3.7},{"t":"2021-10-11T18:00","v":3.0},{"t":"2021-10-11T18:30","v":2.9},{"t":"2021-10-11T19:00","v":2.4},{"t":"2021-10-11T19:30","v":2.3},{"t":"2021-10-11T20:00","v":2.24},{"t":"2021-10-11T20:30","v":1.87},{"t":"2021-10-11T21:00","v":1.64},{"t":"2021-10-11T21:30","v":1.76},{"t":"2021-10-11T22:00","v":1.56},{"t":"2021-10-11T22:30","v":1.69},{"t":"2021-10-11T23:00","v":1.51},{"t":"2021-10-11T23:30","v":1.65},
{"t":"2021-10-12T00:00","v":1.5},{"t":"2021-10-12T00:30","v":1.57},{"t":"2021-10-12T01:00","v":1.62},{"t":"2021-10-12T01:30","v":1.37},{"t":"2021-10-12T02:00","v":1.22},{"t":"2021-10-12T02:30","v":1.2},{"t":"2021-10-12T03:00","v":0.95},{"t":"2021-10-12T03:30","v":0.63},{"t":"2021-10-12T04:00","v":0.4},{"t":"2021-10-12T04:30","v":0.28},{"t":"2021-10-12T05:00","v":0.21},{"t":"2021-10-12T05:30","v":0.18},{"t":"2021-10-12T06:00","v":0.16},{"t":"2021-10-12T06:30","v":0.153},{"t":"2021-10-12T07:00","v":0.112},{"t":"2021-10-12T07:30","v":0.123},{"t":"2021-10-12T08:00","v":0.129},{"t":"2021-10-12T08:30","v":0.097},{"t":"2021-10-12T09:00","v":0.081},{"t":"2021-10-12T09:30","v":0.098},{"t":"2021-10-12T10:00","v":0.08},{"t":"2021-10-12T10:30","v":0.082},{"t":"2021-10-12T11:00","v":0.058},{"t":"2021-10-12T11:30","v":0.061},{"t":"2021-10-12T12:00","v":0.045},{"t":"2021-10-12T12:30","v":0.057},{"t":"2021-10-12T13:00","v":0.069},{"t":"2021-10-12T13:30","v":0.062},{"t":"2021-10-12T14:00","v":0.062},{"t":"2021-10-12T14:30","v":0.086},{"t":"2021-10-12T15:00","v":0.082},{"t":"2021-10-12T15:30","v":0.102},{"t":"2021-10-12T16:00","v":0.087},{"t":"2021-10-12T16:30","v":0.111},{"t":"2021-10-12T17:00","v":0.098},{"t":"2021-10-12T17:30","v":0.119},{"t":"2021-10-12T18:00","v":0.138},{"t":"2021-10-12T18:30","v":0.117},{"t":"2021-10-12T19:00","v":0.112},{"t":"2021-10-12T19:30","v":0.151},{"t":"2021-10-12T20:00","v":0.14},{"t":"2021-10-12T20:30","v":0.168},{"t":"2021-10-12T21:00","v":0.138},{"t":"2021-10-12T21:30","v":0.16},{"t":"2021-10-12T22:00","v":0.129},{"t":"2021-10-12T22:30","v":0.146},{"t":"2021-10-12T23:00","v":0.158},{"t":"2021-10-12T23:30","v":0.126},
{"t":"2021-10-13T00:00","v":0.112},{"t":"2021-10-13T00:30","v":0.138},{"t":"2021-10-13T01:00","v":0.116},{"t":"2021-10-13T01:30","v":0.133},{"t":"2021-10-13T02:00","v":0.105},{"t":"2021-10-13T02:30","v":0.127},{"t":"2021-10-13T03:00","v":0.107},{"t":"2021-10-13T03:30","v":0.127},{"t":"2021-10-13T04:00","v":0.145},{"t":"2021-10-13T04:30","v":0.12},{"t":"2021-10-13T05:00","v":0.112},{"t":"2021-10-13T05:30","v":0.146},{"t":"2021-10-13T06:00","v":0.13},{"t":"2021-10-13T06:30","v":0.148},{"t":"2021-10-13T07:00","v":0.115},{"t":"2021-10-13T07:30","v":0.132},{"t":"2021-10-13T08:00","v":0.105},{"t":"2021-10-13T08:30","v":0.115},{"t":"2021-10-13T09:00","v":0.12},{"t":"2021-10-13T09:30","v":0.095},{"t":"2021-10-13T10:00","v":0.085},{"t":"2021-10-13T10:30","v":0.106},{"t":"2021-10-13T11:00","v":0.09},{"t":"2021-10-13T11:30","v":0.102},{"t":"2021-10-13T12:00","v":0.079},{"t":"2021-10-13T12:30","v":0.09},{"t":"2021-10-13T13:00","v":0.071},{"t":"2021-10-13T13:30","v":0.078},{"t":"2021-10-13T14:00","v":0.081},{"t":"2021-10-13T14:30","v":0.062},{"t":"2021-10-13T15:00","v":0.054},{"t":"2021-10-13T15:30","v":0.062},{"t":"2021-10-13T16:00","v":0.048},{"t":"2021-10-13T16:30","v":0.051},{"t":"2021-10-13T17:00","v":0.036},{"t":"2021-10-13T17:30","v":0.038},{"t":"2021-10-13T18:00","v":0.028},{"t":"2021-10-13T18:30","v":0.029},{"t":"2021-10-13T19:00","v":0.029},{"t":"2021-10-13T19:30","v":0.021},{"t":"2021-10-13T20:00","v":0.018},{"t":"2021-10-13T20:30","v":0.02},{"t":"2021-10-13T21:00","v":0.016},{"t":"2021-10-13T21:30","v":0.0174},{"t":"2021-10-13T22:00","v":0.0129},{"t":"2021-10-13T22:30","v":0.0138},{"t":"2021-10-13T23:00","v":0.0102},{"t":"2021-10-13T23:30","v":0.0107},
{"t":"2021-10-14T00:00","v":0.0107},{"t":"2021-10-14T00:30","v":0.008},{"t":"2021-10-14T01:00","v":0.0068},{"t":"2021-10-14T01:30","v":0.0079},{"t":"2021-10-14T02:00","v":0.0064},{"t":"2021-10-14T02:30","v":0.007},{"t":"2021-10-14T03:00","v":0.0052},{"t":"2021-10-14T03:30","v":0.0058},{"t":"2021-10-14T04:00","v":0.0045},{"t":"2021-10-14T04:30","v":0.005},{"t":"2021-10-14T05:00","v":0.0052},{"t":"2021-10-14T05:30","v":0.0041},{"t":"2021-10-14T06:00","v":0.0035},{"t":"2021-10-14T06:30","v":0.0044},{"t":"2021-10-14T07:00","v":0.0037},{"t":"2021-10-14T07:30","v":0.0042},{"t":"2021-10-14T08:00","v":0.0032},{"t":"2021-10-14T08:30","v":0.0036},{"t":"2021-10-14T09:00","v":0.0028},{"t":"2021-10-14T09:30","v":0.0031},{"t":"2021-10-14T10:00","v":0.0032},{"t":"2021-10-14T10:30","v":0.0025},{"t":"2021-10-14T11:00","v":0.0021},{"t":"2021-10-14T11:20","v":0.0026}
 ],
 "vsw": [
{"t":"2021-10-09T18:00","v":456},{"t":"2021-10-10T02:00","v":441},{"t":"2021-10-10T08:00","v":432},{"t":"2021-10-10T14:00","v":419},{"t":"2021-10-10T20:00","v":405},{"t":"2021-10-11T02:00","v":390},{"t":"2021-10-11T08:00","v":374},{"t":"2021-10-11T14:00","v":358},{"t":"2021-10-11T16:30","v":347},{"t":"2021-10-11T17:30","v":350},{"t":"2021-10-11T18:15","v":365},{"t":"2021-10-11T18:50","v":392},{"t":"2021-10-11T19:30","v":416},{"t":"2021-10-11T20:00","v":422},{"t":"2021-10-11T21:00","v":421},{"t":"2021-10-11T22:00","v":423},{"t":"2021-10-11T23:30","v":429},{"t":"2021-10-12T00:30","v":430},{"t":"2021-10-12T02:00","v":425},{"t":"2021-10-12T04:00","v":414},{"t":"2021-10-12T06:00","v":392},{"t":"2021-10-12T08:00","v":371},{"t":"2021-10-12T10:00","v":367},{"t":"2021-10-12T12:00","v":374},{"t":"2021-10-12T15:00","v":396},{"t":"2021-10-12T18:00","v":412},{"t":"2021-10-12T20:00","v":416},{"t":"2021-10-12T22:00","v":408},{"t":"2021-10-13T01:00","v":383},{"t":"2021-10-13T04:00","v":352},{"t":"2021-10-13T08:00","v":323},{"t":"2021-10-13T12:00","v":300},{"t":"2021-10-13T16:00","v":285},{"t":"2021-10-13T20:00","v":278},{"t":"2021-10-14T00:00","v":278},{"t":"2021-10-14T04:00","v":285},{"t":"2021-10-14T08:00","v":291},{"t":"2021-10-14T12:00","v":289}
 ],
 "mag": [
{"t":"2021-10-09T18:00","c":"B","v":8.8},{"t":"2021-10-10T02:00","c":"B","v":9.2},{"t":"2021-10-10T09:00","c":"B","v":8.95},{"t":"2021-10-10T16:00","c":"B","v":7.6},{"t":"2021-10-10T23:00","c":"B","v":6.5},{"t":"2021-10-11T07:00","c":"B","v":5.9},{"t":"2021-10-11T14:00","c":"B","v":5.7},{"t":"2021-10-11T16:00","c":"B","v":5.5},{"t":"2021-10-11T17:00","c":"B","v":5.8},{"t":"2021-10-11T18:00","c":"B","v":7.6},{"t":"2021-10-11T19:00","c":"B","v":11.0},{"t":"2021-10-11T20:00","c":"B","v":13.0},{"t":"2021-10-11T21:00","c":"B","v":11.2},{"t":"2021-10-11T22:00","c":"B","v":10.4},{"t":"2021-10-11T23:00","c":"B","v":10.8},{"t":"2021-10-12T00:00","c":"B","v":10.9},{"t":"2021-10-12T01:00","c":"B","v":10.5},{"t":"2021-10-12T02:00","c":"B","v":9.0},{"t":"2021-10-12T03:00","c":"B","v":6.0},{"t":"2021-10-12T04:00","c":"B","v":3.5},{"t":"2021-10-12T05:30","c":"B","v":3.2},{"t":"2021-10-12T07:00","c":"B","v":3.0},{"t":"2021-10-12T08:30","c":"B","v":2.9},{"t":"2021-10-12T10:00","c":"B","v":1.8},{"t":"2021-10-12T11:30","c":"B","v":1.4},{"t":"2021-10-12T13:00","c":"B","v":2.0},{"t":"2021-10-12T15:00","c":"B","v":2.4},{"t":"2021-10-12T18:30","c":"B","v":2.4},{"t":"2021-10-12T22:00","c":"B","v":1.5},{"t":"2021-10-13T01:30","c":"B","v":0.2},{"t":"2021-10-13T05:00","c":"B","v":1.4},{"t":"2021-10-13T09:00","c":"B","v":2.7},{"t":"2021-10-13T13:30","c":"B","v":3.5},{"t":"2021-10-13T14:30","c":"B","v":4.1},{"t":"2021-10-13T16:00","c":"B","v":4.2},{"t":"2021-10-13T22:00","c":"B","v":4.5},{"t":"2021-10-14T00:00","c":"B","v":4.5},{"t":"2021-10-14T03:00","c":"B","v":4.4},{"t":"2021-10-14T06:30","c":"B","v":4.5},{"t":"2021-10-14T12:00","c":"B","v":4.8},
{"t":"2021-10-09T18:00","c":"BR","v":7.6},{"t":"2021-10-10T02:00","c":"BR","v":7.9},{"t":"2021-10-10T09:00","c":"BR","v":7.4},{"t":"2021-10-10T16:00","c":"BR","v":6.4},{"t":"2021-10-10T23:00","c":"BR","v":5.3},{"t":"2021-10-11T07:00","c":"BR","v":4.86},{"t":"2021-10-11T14:00","c":"BR","v":4.7},{"t":"2021-10-11T16:00","c":"BR","v":4.6},{"t":"2021-10-11T17:00","c":"BR","v":4.9},{"t":"2021-10-11T18:00","c":"BR","v":5.9},{"t":"2021-10-11T19:00","c":"BR","v":7.3},{"t":"2021-10-11T20:00","c":"BR","v":7.0},{"t":"2021-10-11T21:00","c":"BR","v":4.8},{"t":"2021-10-11T22:00","c":"BR","v":1.5},{"t":"2021-10-11T23:00","c":"BR","v":-1.5},{"t":"2021-10-12T00:00","c":"BR","v":-3.2},{"t":"2021-10-12T01:00","c":"BR","v":-4.0},{"t":"2021-10-12T02:00","c":"BR","v":-4.3},{"t":"2021-10-12T03:00","c":"BR","v":-3.9},{"t":"2021-10-12T04:00","c":"BR","v":-2.8},{"t":"2021-10-12T05:30","c":"BR","v":-2.1},{"t":"2021-10-12T07:00","c":"BR","v":-2.3},{"t":"2021-10-12T08:30","c":"BR","v":-2.4},{"t":"2021-10-12T10:00","c":"BR","v":-1.2},{"t":"2021-10-12T11:30","c":"BR","v":0.0},{"t":"2021-10-12T13:00","c":"BR","v":1.2},{"t":"2021-10-12T15:00","c":"BR","v":1.8},{"t":"2021-10-12T18:30","c":"BR","v":2.1},{"t":"2021-10-12T22:00","c":"BR","v":1.9},{"t":"2021-10-13T01:30","c":"BR","v":0.2},{"t":"2021-10-13T05:00","c":"BR","v":-1.1},{"t":"2021-10-13T09:00","c":"BR","v":-2.4},{"t":"2021-10-13T13:30","c":"BR","v":-3.1},{"t":"2021-10-13T14:30","c":"BR","v":-3.8},{"t":"2021-10-13T16:00","c":"BR","v":-3.8},{"t":"2021-10-13T22:00","c":"BR","v":-3.8},{"t":"2021-10-14T00:00","c":"BR","v":-3.9},{"t":"2021-10-14T03:00","c":"BR","v":-3.9},{"t":"2021-10-14T06:30","c":"BR","v":-4.0},{"t":"2021-10-14T12:00","c":"BR","v":-4.1},
{"t":"2021-10-09T18:00","c":"BT","v":-4.5},{"t":"2021-10-10T02:00","c":"BT","v":-4.8},{"t":"2021-10-10T09:00","c":"BT","v":-4.6},{"t":"2021-10-10T16:00","c":"BT","v":-4.0},{"t":"2021-10-10T23:00","c":"BT","v":-3.6},{"t":"2021-10-11T07:00","c":"BT","v":-3.4},{"t":"2021-10-11T14:00","c":"BT","v":-3.2},{"t":"2021-10-11T16:00","c":"BT","v":-3.1},{"t":"2021-10-11T17:00","c":"BT","v":-3.4},{"t":"2021-10-11T18:00","c":"BT","v":-4.8},{"t":"2021-10-11T19:00","c":"BT","v":-8.5},{"t":"2021-10-11T20:00","c":"BT","v":-10.9},{"t":"2021-10-11T21:00","c":"BT","v":-10.5},{"t":"2021-10-11T22:00","c":"BT","v":-10.3},{"t":"2021-10-11T23:00","c":"BT","v":-10.1},{"t":"2021-10-12T00:00","c":"BT","v":-10.0},{"t":"2021-10-12T01:00","c":"BT","v":-9.8},{"t":"2021-10-12T02:00","c":"BT","v":-8.1},{"t":"2021-10-12T03:00","c":"BT","v":-5.0},{"t":"2021-10-12T04:00","c":"BT","v":-2.6},{"t":"2021-10-12T05:30","c":"BT","v":-2.0},{"t":"2021-10-12T07:00","c":"BT","v":-1.7},{"t":"2021-10-12T08:30","c":"BT","v":-1.0},{"t":"2021-10-12T10:00","c":"BT","v":0.2},{"t":"2021-10-12T11:30","c":"BT","v":0.95},{"t":"2021-10-12T13:00","c":"BT","v":1.5},{"t":"2021-10-12T15:00","c":"BT","v":1.5},{"t":"2021-10-12T18:30","c":"BT","v":0.95},{"t":"2021-10-12T22:00","c":"BT","v":0.5},{"t":"2021-10-13T01:30","c":"BT","v":0.0},{"t":"2021-10-13T05:00","c":"BT","v":-0.3},{"t":"2021-10-13T09:00","c":"BT","v":-0.5},{"t":"2021-10-13T13:30","c":"BT","v":-0.8},{"t":"2021-10-13T14:30","c":"BT","v":-0.9},{"t":"2021-10-13T16:00","c":"BT","v":-1.0},{"t":"2021-10-13T22:00","c":"BT","v":-1.5},{"t":"2021-10-14T00:00","c":"BT","v":-1.7},{"t":"2021-10-14T03:00","c":"BT","v":-1.2},{"t":"2021-10-14T06:30","c":"BT","v":0.5},{"t":"2021-10-14T12:00","c":"BT","v":1.4},
{"t":"2021-10-09T18:00","c":"BN","v":0.2},{"t":"2021-10-10T02:00","c":"BN","v":0.3},{"t":"2021-10-10T09:00","c":"BN","v":0.4},{"t":"2021-10-10T16:00","c":"BN","v":0.3},{"t":"2021-10-10T23:00","c":"BN","v":0.2},{"t":"2021-10-11T07:00","c":"BN","v":0.1},{"t":"2021-10-11T14:00","c":"BN","v":0.05},{"t":"2021-10-11T16:00","c":"BN","v":0.0},{"t":"2021-10-11T17:00","c":"BN","v":-0.4},{"t":"2021-10-11T18:00","c":"BN","v":-0.95},{"t":"2021-10-11T19:00","c":"BN","v":0.3},{"t":"2021-10-11T20:00","c":"BN","v":0.9},{"t":"2021-10-11T21:00","c":"BN","v":0.2},{"t":"2021-10-11T22:00","c":"BN","v":0.0},{"t":"2021-10-11T23:00","c":"BN","v":-0.2},{"t":"2021-10-12T00:00","c":"BN","v":-0.4},{"t":"2021-10-12T01:00","c":"BN","v":-0.5},{"t":"2021-10-12T02:00","c":"BN","v":-0.8},{"t":"2021-10-12T03:00","c":"BN","v":-1.4},{"t":"2021-10-12T04:00","c":"BN","v":-1.7},{"t":"2021-10-12T05:30","c":"BN","v":-0.3},{"t":"2021-10-12T07:00","c":"BN","v":0.0},{"t":"2021-10-12T08:30","c":"BN","v":0.3},{"t":"2021-10-12T10:00","c":"BN","v":0.6},{"t":"2021-10-12T11:30","c":"BN","v":0.8},{"t":"2021-10-12T13:00","c":"BN","v":1.1},{"t":"2021-10-12T15:00","c":"BN","v":1.4},{"t":"2021-10-12T18:30","c":"BN","v":0.95},{"t":"2021-10-12T22:00","c":"BN","v":0.5},{"t":"2021-10-13T01:30","c":"BN","v":0.0},{"t":"2021-10-13T05:00","c":"BN","v":-0.2},{"t":"2021-10-13T09:00","c":"BN","v":-0.3},{"t":"2021-10-13T13:30","c":"BN","v":-0.4},{"t":"2021-10-13T14:30","c":"BN","v":-0.5},{"t":"2021-10-13T16:00","c":"BN","v":-0.5},{"t":"2021-10-13T22:00","c":"BN","v":-0.8},{"t":"2021-10-14T00:00","c":"BN","v":-0.9},{"t":"2021-10-14T03:00","c":"BN","v":-1.1},{"t":"2021-10-14T06:30","c":"BN","v":-1.4},{"t":"2021-10-14T12:00","c":"BN","v":-1.7}
 ]
},
"resolve": {"scale": {"color": "independent"}},
"vconcat": [
 {
  "width": 564, "height": 374,
  "title": {"text": "Solar Orbiter", "fontSize": 17, "fontWeight": "normal", "anchor": "middle", "frame": "group", "offset": 12, "color": "black"},
  "resolve": {"axis": {"y": "independent"}},
  "layer": [
   {"data": {"name": "i58"}, "mark": {"type": "circle", "size": 9, "opacity": 1, "clip": true},
    "encoding": {
     "x": {"field": "t", "type": "temporal", "scale": {"domain": [{"year": 2021, "month": 10, "date": 9, "hours": 18, "minutes": 36}, {"year": 2021, "month": 10, "date": 14, "hours": 11, "minutes": 24}]}, "axis": null},
     "y": {"field": "v", "type": "quantitative", "scale": {"type": "log", "domain": [0.0022, 199000], "nice": false},
       "axis": {"orient": "left", "values": [0.01, 0.1, 1, 10, 100, 1000, 10000, 100000], "labelExpr": "['10⁻²','10⁻¹','10⁰','10¹','10²','10³','10⁴','10⁵'][round(log(datum.value)/LN10)+2]", "title": "Intensity [cm⁻² s⁻¹ MeV⁻¹ sr⁻¹]"}},
     "color": {"datum": "58-70 keV", "type": "nominal",
       "scale": {"domain": ["58-70 keV", "124-203 keV", "349-411 keV", "677-1594 keV", "2000-4800 keV"], "range": ["#1f77b4", "#ff7f0e", "#2ca02c", "#d62728", "#9467bd"]},
       "legend": {"orient": "none", "legendX": 54, "legendY": 233, "title": null, "symbolSize": 0, "symbolOpacity": 0, "symbolStrokeWidth": 0, "labelFontSize": 16, "labelOffset": 0, "padding": 5.5, "rowPadding": 7.5, "strokeColor": "#cccccc", "fillColor": "rgba(255,255,255,0.8)", "cornerRadius": 3,
         "labelColor": {"expr": "datum.value=='58-70 keV'?'#1f77b4':datum.value=='124-203 keV'?'#ff7f0e':datum.value=='349-411 keV'?'#2ca02c':datum.value=='677-1594 keV'?'#d62728':'#9467bd'"}}}
    }},
   {"data": {"name": "i124"}, "mark": {"type": "circle", "size": 9, "opacity": 1, "clip": true},
    "encoding": {
     "x": {"field": "t", "type": "temporal", "scale": {"domain": [{"year": 2021, "month": 10, "date": 9, "hours": 18, "minutes": 36}, {"year": 2021, "month": 10, "date": 14, "hours": 11, "minutes": 24}]}, "axis": null},
     "y": {"field": "v", "type": "quantitative", "scale": {"type": "log", "domain": [0.0022, 199000], "nice": false},
       "axis": {"orient": "left", "labels": false, "tickSize": 3.2, "title": null, "values": [0.003,0.004,0.005,0.006,0.007,0.008,0.009,0.02,0.03,0.04,0.05,0.06,0.07,0.08,0.09,0.2,0.3,0.4,0.5,0.6,0.7,0.8,0.9,2,3,4,5,6,7,8,9,20,30,40,50,60,70,80,90,200,300,400,500,600,700,800,900,2000,3000,4000,5000,6000,7000,8000,9000,20000,30000,40000,50000,60000,70000,80000,90000]}},
     "color": {"datum": "124-203 keV", "type": "nominal"}
    }},
   {"data": {"name": "i349"}, "mark": {"type": "circle", "size": 9, "opacity": 1, "clip": true},
    "encoding": {
     "x": {"field": "t", "type": "temporal", "scale": {"domain": [{"year": 2021, "month": 10, "date": 9, "hours": 18, "minutes": 36}, {"year": 2021, "month": 10, "date": 14, "hours": 11, "minutes": 24}]}, "axis": null},
     "y": {"field": "v", "type": "quantitative", "scale": {"type": "log", "domain": [0.0022, 199000], "nice": false}, "axis": null},
     "color": {"datum": "349-411 keV", "type": "nominal"}
    }},
   {"data": {"name": "i677"}, "mark": {"type": "circle", "size": 9, "opacity": 1, "clip": true},
    "encoding": {
     "x": {"field": "t", "type": "temporal", "scale": {"domain": [{"year": 2021, "month": 10, "date": 9, "hours": 18, "minutes": 36}, {"year": 2021, "month": 10, "date": 14, "hours": 11, "minutes": 24}]}, "axis": null},
     "y": {"field": "v", "type": "quantitative", "scale": {"type": "log", "domain": [0.0022, 199000], "nice": false}, "axis": null},
     "color": {"datum": "677-1594 keV", "type": "nominal"}
    }},
   {"data": {"name": "i2000"}, "mark": {"type": "circle", "size": 9, "opacity": 1, "clip": true},
    "encoding": {
     "x": {"field": "t", "type": "temporal", "scale": {"domain": [{"year": 2021, "month": 10, "date": 9, "hours": 18, "minutes": 36}, {"year": 2021, "month": 10, "date": 14, "hours": 11, "minutes": 24}]}, "axis": null},
     "y": {"field": "v", "type": "quantitative", "scale": {"type": "log", "domain": [0.0022, 199000], "nice": false}, "axis": null},
     "color": {"datum": "2000-4800 keV", "type": "nominal"}
    }}
  ]
 },
 {
  "width": 564, "height": 94,
  "data": {"name": "vsw"},
  "mark": {"type": "line", "color": "#1f77b4", "strokeWidth": 2.3, "interpolate": "monotone", "clip": true},
  "encoding": {
   "x": {"field": "t", "type": "temporal", "scale": {"domain": [{"year": 2021, "month": 10, "date": 9, "hours": 18, "minutes": 36}, {"year": 2021, "month": 10, "date": 14, "hours": 11, "minutes": 24}]}, "axis": null},
   "y": {"field": "v", "type": "quantitative", "scale": {"domain": [255, 600], "nice": false, "zero": false}, "axis": {"values": [400, 600], "title": "Vsw [km/s]"}}
  }
 },
 {
  "width": 564, "height": 93,
  "resolve": {"axis": {"x": "independent"}},
  "layer": [
   {"data": {"name": "mag"},
    "mark": {"type": "line", "strokeWidth": 2.3, "interpolate": "monotone", "clip": true},
    "encoding": {
     "x": {"field": "t", "type": "temporal", "scale": {"domain": [{"year": 2021, "month": 10, "date": 9, "hours": 18, "minutes": 36}, {"year": 2021, "month": 10, "date": 14, "hours": 11, "minutes": 24}]},
       "axis": {"values": [{"year": 2021, "month": 10, "date": 10}, {"year": 2021, "month": 10, "date": 11}, {"year": 2021, "month": 10, "date": 12}, {"year": 2021, "month": 10, "date": 13}, {"year": 2021, "month": 10, "date": 14}], "format": "%m/%d", "title": "2021", "labelPadding": 4, "titlePadding": 5}},
     "y": {"field": "v", "type": "quantitative", "scale": {"domain": [-12.6, 14.3], "nice": false}, "axis": {"values": [-10, 0, 10], "title": "B⃗sw [nT]"}},
     "color": {"field": "c", "type": "nominal",
       "scale": {"domain": ["B", "BR", "BT", "BN"], "range": ["#1f77b4", "#ff7f0e", "#2ca02c", "#d62728"]},
       "legend": {"orient": "none", "legendX": 416, "legendY": 9, "direction": "horizontal", "title": null, "symbolSize": 0, "symbolOpacity": 0, "symbolStrokeWidth": 0, "labelFontSize": 16, "labelFontStyle": "italic", "labelOffset": 0, "columnPadding": 2, "padding": 2, "strokeColor": "#cccccc", "fillColor": "rgba(255,255,255,0.8)", "cornerRadius": 3,
         "labelExpr": "datum.value=='BR'?'Bᵣ':datum.value=='BT'?'Bₜ':datum.value=='BN'?'Bₙ':'B'",
         "labelColor": {"expr": "datum.value=='B'?'#1f77b4':datum.value=='BR'?'#ff7f0e':datum.value=='BT'?'#2ca02c':'#d62728'"}}}
    }},
   {"data": {"name": "mag"},
    "mark": {"type": "point", "opacity": 0},
    "encoding": {
     "x": {"field": "t", "type": "temporal", "scale": {"domain": [{"year": 2021, "month": 10, "date": 9, "hours": 18, "minutes": 36}, {"year": 2021, "month": 10, "date": 14, "hours": 11, "minutes": 24}]},
       "axis": {"orient": "bottom", "labels": false, "tickSize": 3.2, "title": null, "values": [{"year": 2021, "month": 10, "date": 10, "hours": 6}, {"year": 2021, "month": 10, "date": 10, "hours": 12}, {"year": 2021, "month": 10, "date": 10, "hours": 18}, {"year": 2021, "month": 10, "date": 11, "hours": 6}, {"year": 2021, "month": 10, "date": 11, "hours": 12}, {"year": 2021, "month": 10, "date": 11, "hours": 18}, {"year": 2021, "month": 10, "date": 12, "hours": 6}, {"year": 2021, "month": 10, "date": 12, "hours": 12}, {"year": 2021, "month": 10, "date": 12, "hours": 18}, {"year": 2021, "month": 10, "date": 13, "hours": 6}, {"year": 2021, "month": 10, "date": 13, "hours": 12}, {"year": 2021, "month": 10, "date": 13, "hours": 18}, {"year": 2021, "month": 10, "date": 14, "hours": 6}]}},
     "y": {"field": "v", "type": "quantitative", "scale": {"domain": [-12.6, 14.3], "nice": false}, "axis": {"values": [-10, 0, 10], "title": "B⃗sw [nT]"}}
    }}
  ]
 }
]
}
